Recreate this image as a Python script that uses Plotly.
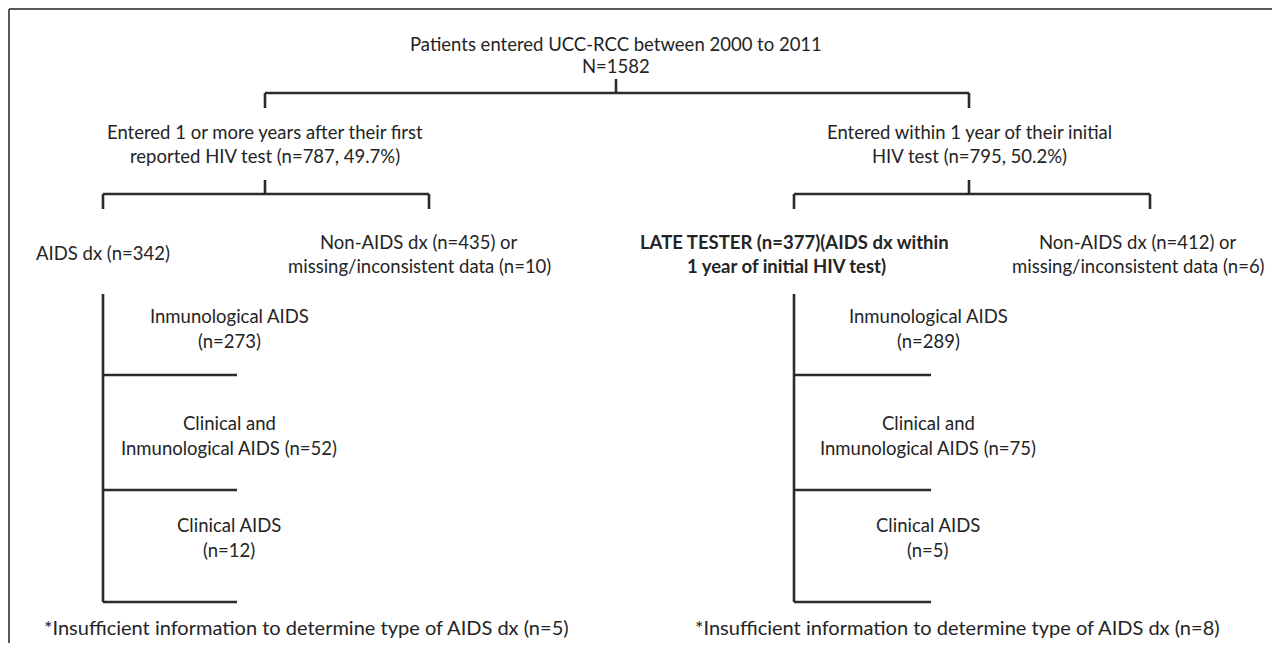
import plotly.graph_objects as go

# ---------------- data ----------------
total_n = 1582
study_label = "Patients entered UCC-RCC between 2000 to 2011"
group_n = [787, 795]
group_pct = [49.7, 50.2]
aids_n = [342, 377]
nonaids_n = [435, 412]
missing_n = [10, 6]
type_names = ["Inmunological AIDS", "Clinical and Inmunological AIDS", "Clinical AIDS"]
type_n_left = [273, 52, 12]
type_n_right = [289, 75, 5]
insufficient_n = [5, 8]

# ---------------- layout geometry (reference pixels) ----------------
W, H = 1280, 651
BODY = 8                      # default page margin of the html body
FW, FH = W - 2 * BODY, H - 2 * BODY
X0, Y0 = 7, 6                 # reference pixel shown at the figure's top-left
root_x = 615
grp_x = [264, 968]
aids_x = [102, 793]
non_x = [428, 1149]
type_x = [228, 927]
branch_end = [236, 930]
branch_y = [373, 488, 600]
foot_x = [305, 956]

LINE = "#2b2b2b"
TXT = "#242424"
FONT = "Lato"
FS = 18.5
FS_FOOT = 20

xs, ys = [], []
def seg(x0, y0, x1, y1):
    xs.extend([x0, x1, None]); ys.extend([y0, y1, None])

# root connector
seg(root_x, 77, root_x, 91)
seg(grp_x[0], 91, grp_x[1], 91)
for gx in grp_x:
    seg(gx, 91, gx, 106)
# group connectors
for i in range(2):
    seg(grp_x[i], 178, grp_x[i], 192)
    seg(aids_x[i], 192, non_x[i], 192)
    seg(aids_x[i], 192, aids_x[i], 207)
    seg(non_x[i], 192, non_x[i], 207)
    # type tree
    seg(aids_x[i], 292, aids_x[i], branch_y[-1])
    for by in branch_y:
        seg(aids_x[i], by, branch_end[i], by)

fig = go.Figure()
fig.add_trace(go.Scatter(x=xs, y=ys, mode="lines",
                         line=dict(color=LINE, width=2.6), hoverinfo="skip",
                         showlegend=False))

def txt(x, y, s, bold=False, size=FS):
    if bold:
        s = "<b>" + s + "</b>"
    fig.add_annotation(x=x, y=y, text=s, showarrow=False, xref="x", yref="y",
                       xanchor="center", yanchor="middle", align="center",
                       font=dict(family=FONT, size=size, color=TXT))

txt(root_x, 42, study_label)
txt(root_x, 64, f"N={total_n}")

txt(grp_x[0], 130, "Entered 1 or more years after their first")
txt(grp_x[0], 154, f"reported HIV test (n={group_n[0]}, {group_pct[0]}%)")
txt(grp_x[1], 130, "Entered within 1 year of their initial")
txt(grp_x[1], 154, f"HIV test (n={group_n[1]}, {group_pct[1]}%)")

txt(aids_x[0], 251, f"AIDS dx (n={aids_n[0]})")
txt(non_x[0] - 10, 240, f"Non-AIDS dx (n={nonaids_n[0]}) or")
txt(non_x[0] - 10, 264, f"missing/inconsistent data (n={missing_n[0]})")

txt(aids_x[1], 240, f"LATE TESTER (n={aids_n[1]})(AIDS dx within", bold=True)
txt(aids_x[1] - 8, 264, "1 year of initial HIV test)", bold=True)
txt(non_x[1] - 12, 240, f"Non-AIDS dx (n={nonaids_n[1]}) or")
txt(non_x[1] - 12, 264, f"missing/inconsistent data (n={missing_n[1]})")

type_text_y = [(314, 339), (421, 446), (523, 548)]
for i, counts in enumerate([type_n_left, type_n_right]):
    x = type_x[i]
    txt(x, type_text_y[0][0], type_names[0])
    txt(x, type_text_y[0][1], f"(n={counts[0]})")
    txt(x, type_text_y[1][0], "Clinical and")
    txt(x, type_text_y[1][1], f"Inmunological AIDS (n={counts[1]})")
    txt(x, type_text_y[2][0], type_names[2])
    txt(x, type_text_y[2][1], f"(n={counts[2]})")
    txt(foot_x[i], 625, f"*Insufficient information to determine type of AIDS dx (n={insufficient_n[i]})",
        size=FS_FOOT)

# outer frame (top & left)
fig.add_shape(type="line", x0=8, y0=7, x1=W, y1=7, xref="x", yref="y",
              line=dict(color="#5a5a5a", width=2))
fig.add_shape(type="line", x0=8, y0=7, x1=8, y1=H, xref="x", yref="y",
              line=dict(color="#5a5a5a", width=2))

fig.update_layout(width=FW, height=FH, margin=dict(l=0, r=0, t=0, b=0),
                  paper_bgcolor="white", plot_bgcolor="white",
                  xaxis=dict(range=[X0, X0 + FW], visible=False, fixedrange=True),
                  yaxis=dict(range=[Y0 + FH, Y0], visible=False, fixedrange=True),
                  showlegend=False)
fig.write_html("out.html")
